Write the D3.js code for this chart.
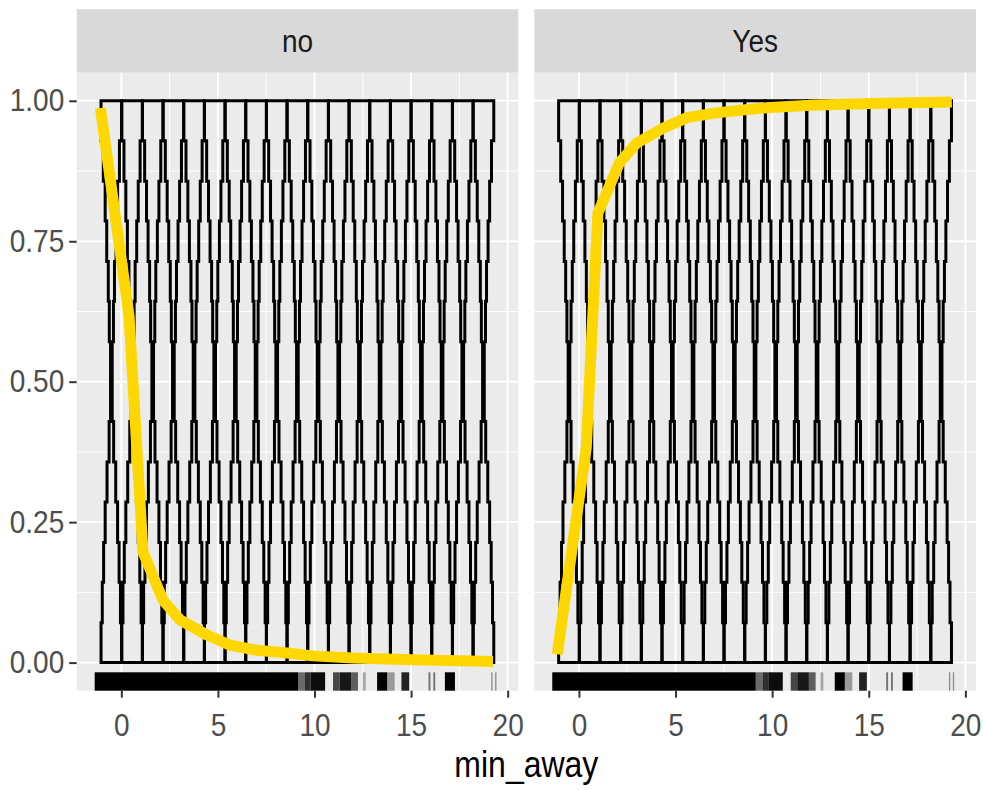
<!DOCTYPE html>
<html><head>
<meta charset="utf-8">
<title>min_away facets</title>
<script src="https://d3js.org/d3.v7.min.js"></script>
<style>
  body { margin: 0; background: #fff; }
  svg text { font-family: "Liberation Sans", Arial, sans-serif; }
</style>
</head>
<body>
<div id="chart"></div>
<script>

// facet labels
var facets = ["no", "Yes"];

// axis ticks
var xTicks = [0, 5, 10, 15, 20];
var xMinor = [2.5, 7.5, 12.5, 17.5];
var yTicks = [0, 0.25, 0.5, 0.75, 1];
var yMinor = [0.125, 0.375, 0.625, 0.875];

// violin centres (same bins in both facets) and the step levels of their outline
var binCenters = [-0.515, 0.555, 1.625, 2.695, 3.765, 4.835, 5.905, 6.975, 8.045, 9.115,
                  10.185, 11.255, 12.325, 13.395, 14.465, 15.535, 16.605, 17.675, 18.745];
var binHalfWidth = 0.535;
var bandEdges = [1, 0.929, 0.857, 0.786, 0.714, 0.643, 0.571, 0.5, 0.429, 0.357, 0.286, 0.214, 0.143, 0.071, 0];
// relative half-width of the violin in each band, top to bottom
var profileNo  = [1.0, 0.78, 0.6, 0.45, 0.3, 0.2, 0.08, 0.08, 0.22, 0.42, 0.6, 0.75, 0.88, 1.0];
var profileYes = [1.0, 0.8, 0.62, 0.46, 0.32, 0.2, 0.08, 0.08, 0.2, 0.4, 0.58, 0.72, 0.86, 1.0];

// fitted probability line
var fitXNo  = [-1.08, 0.40, 1.12, 2.16, 3.04, 4.44, 5.63, 7.03, 8.58, 9.92, 11.99, 15.1, 19.24];
var fitYNo  = [0.987, 0.617, 0.197, 0.111, 0.076, 0.049, 0.031, 0.022, 0.017, 0.012, 0.008, 0.005, 0.002];
var fitXYes = [-1.12, 0.38, 0.98, 2.1, 3.0, 4.4, 5.6, 7.0, 8.6, 9.9, 12.0, 15.1, 19.3];
var fitYYes = [0.015, 0.383, 0.80, 0.89, 0.925, 0.952, 0.97, 0.978, 0.984, 0.988, 0.992, 0.995, 0.998];

// rug of min_away values: band start, band end, darkness
var rugFrom  = [-1.38, 9.15, 9.5, 9.8, 10.96, 11.3, 11.9, 12.5, 13.24, 13.76, 14.5, 15.9, 16.15, 16.75, 19.15, 19.35];
var rugTo    = [9.15, 9.5, 9.8, 10.55, 11.3, 11.9, 12.25, 12.65, 13.76, 14.15, 14.9, 16.0, 16.25, 17.27, 19.22, 19.42];
var rugShade = [1, 0.55, 0.8, 0.95, 0.7, 0.9, 0.6, 0.3, 1, 0.35, 0.85, 0.5, 0.5, 1, 0.4, 0.4];

var W = 983, H = 790;
var panelX = [[76.7, 518.3], [534.3, 976]];
var stripTop = 9.3, panelTop = 72.7, panelBottom = 690.7;
var stretch = 1.13;   // text in the reference is a bit taller than wide

var svg = d3.select("#chart").append("svg")
    .attr("width", W)
    .attr("height", H);

svg.append("rect").attr("width", W).attr("height", H).attr("fill", "#fff");

var y = d3.scaleLinear().domain([-0.05, 1.05]).range([panelBottom, panelTop]);

var profiles = [profileNo, profileYes];
var fits = [[fitXNo, fitYNo], [fitXYes, fitYYes]];

facets.forEach(function(name, i) {
  var x = d3.scaleLinear().domain([-2.31, 20.55]).range(panelX[i]);
  var g = svg.append("g");

  // strip
  g.append("rect")
    .attr("x", panelX[i][0]).attr("y", stripTop)
    .attr("width", panelX[i][1] - panelX[i][0]).attr("height", panelTop - stripTop)
    .attr("fill", "#D9D9D9");
  g.append("text")
    .attr("transform", "translate(" + (panelX[i][0] + panelX[i][1]) / 2 + "," + (stripTop + panelTop) / 2 + ") scale(1," + stretch + ")")
    .attr("dy", "0.36em")
    .attr("text-anchor", "middle")
    .attr("fill", "#1A1A1A")
    .style("font-size", "28px")
    .text(name);

  // panel background + grid
  g.append("rect")
    .attr("x", panelX[i][0]).attr("y", panelTop)
    .attr("width", panelX[i][1] - panelX[i][0]).attr("height", panelBottom - panelTop)
    .attr("fill", "#EBEBEB");

  g.selectAll(".xminor").data(xMinor).enter().append("line")
    .attr("x1", function(d) { return x(d); }).attr("x2", function(d) { return x(d); })
    .attr("y1", panelTop).attr("y2", panelBottom)
    .attr("stroke", "#fff").attr("stroke-width", 0.9);
  g.selectAll(".yminor").data(yMinor).enter().append("line")
    .attr("x1", panelX[i][0]).attr("x2", panelX[i][1])
    .attr("y1", function(d) { return y(d); }).attr("y2", function(d) { return y(d); })
    .attr("stroke", "#fff").attr("stroke-width", 0.9);
  g.selectAll(".xmajor").data(xTicks).enter().append("line")
    .attr("x1", function(d) { return x(d); }).attr("x2", function(d) { return x(d); })
    .attr("y1", panelTop).attr("y2", panelBottom)
    .attr("stroke", "#fff").attr("stroke-width", 1.9);
  g.selectAll(".ymajor").data(yTicks).enter().append("line")
    .attr("x1", panelX[i][0]).attr("x2", panelX[i][1])
    .attr("y1", function(d) { return y(d); }).attr("y2", function(d) { return y(d); })
    .attr("stroke", "#fff").attr("stroke-width", 1.9);

  // violins
  var prof = profiles[i];
  var line = d3.line().x(function(p) { return x(p[0]); }).y(function(p) { return y(p[1]); });
  binCenters.forEach(function(c) {
    var right = [], left = [];
    prof.forEach(function(w, k) {
      right.push([c + w * binHalfWidth, bandEdges[k]]);
      right.push([c + w * binHalfWidth, bandEdges[k + 1]]);
      left.push([c - w * binHalfWidth, bandEdges[k]]);
      left.push([c - w * binHalfWidth, bandEdges[k + 1]]);
    });
    var pts = right.concat(left.reverse());
    g.append("path")
      .attr("d", line(pts) + "Z")
      .attr("fill", "none")
      .attr("stroke", "#000")
      .attr("stroke-width", 3)
      .attr("stroke-linejoin", "miter");
  });

  // rug
  g.selectAll(".rug").data(rugFrom).enter().append("rect")
    .attr("x", function(d) { return x(d); })
    .attr("width", function(d, j) { return x(rugTo[j]) - x(d); })
    .attr("y", panelBottom - 18.4)
    .attr("height", 18.4)
    .attr("fill", "#000")
    .attr("fill-opacity", function(d, j) { return rugShade[j]; });

  // fitted line
  var fx = fits[i][0], fy = fits[i][1];
  g.append("path")
    .datum(fx.map(function(v, j) { return [v, fy[j]]; }))
    .attr("d", d3.line().x(function(p) { return x(p[0]); }).y(function(p) { return y(p[1]); }))
    .attr("fill", "none")
    .attr("stroke", "#FFD700")
    .attr("stroke-width", 11)
    .attr("stroke-linejoin", "round");

  // x axis
  var xAxis = g.append("g")
    .attr("transform", "translate(0," + panelBottom + ")")
    .call(d3.axisBottom(x).tickValues(xTicks).tickSize(7).tickPadding(13.5));
  xAxis.select(".domain").remove();
  xAxis.selectAll("line").attr("stroke", "#333").attr("stroke-width", 2);
  xAxis.selectAll("text")
    .attr("transform", "scale(1," + stretch + ")")
    .attr("fill", "#4D4D4D")
    .style("font-size", "28px")
    .style("font-family", "'Liberation Sans', Arial, sans-serif");

  // y axis only on the first facet
  if (i === 0) {
    var yAxis = g.append("g")
      .attr("transform", "translate(" + panelX[i][0] + ",0)")
      .call(d3.axisLeft(y).tickValues(yTicks).tickFormat(d3.format(".2f")).tickSize(7.5).tickPadding(5));
    yAxis.select(".domain").remove();
    yAxis.selectAll("line").attr("stroke", "#333").attr("stroke-width", 2);
    yAxis.selectAll("text")
      .attr("transform", "scale(1," + stretch + ")")
      .attr("fill", "#4D4D4D")
      .style("font-size", "28px")
      .style("font-family", "'Liberation Sans', Arial, sans-serif");
  }
});

// axis title
svg.append("text")
  .attr("transform", "translate(" + (panelX[0][0] + panelX[1][1]) / 2 + ",777) scale(1," + stretch + ")")
  .attr("text-anchor", "middle")
  .attr("fill", "#000")
  .style("font-size", "32px")
  .text("min_away");

</script>
</body></html>
